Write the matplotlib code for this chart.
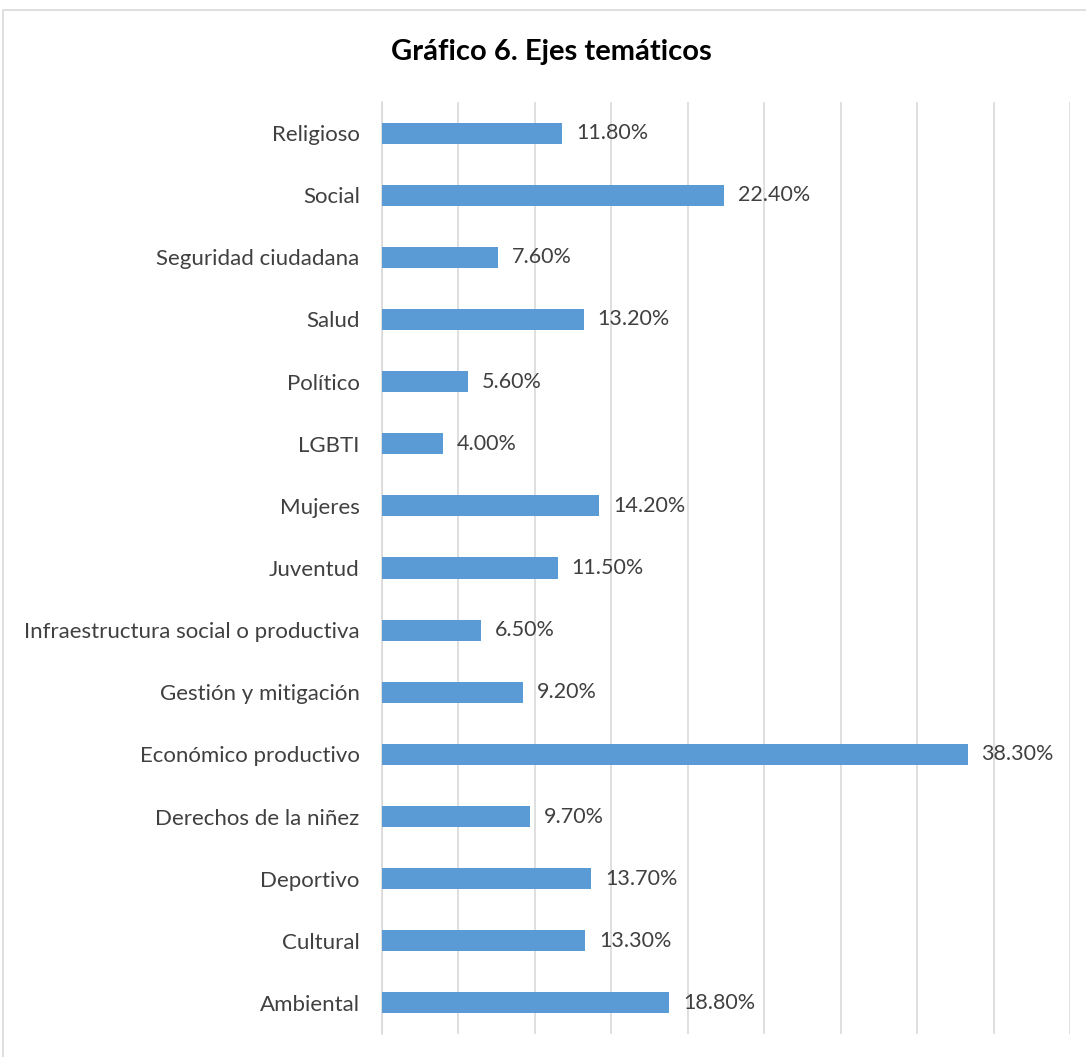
import matplotlib
matplotlib.use("Agg")
import matplotlib.pyplot as plt
from matplotlib.patches import Rectangle

categories = ["Ambiental", "Cultural", "Deportivo", "Derechos de la niñez",
              "Económico productivo", "Gestión y mitigación",
              "Infraestructura social o productiva", "Juventud", "Mujeres",
              "LGBTI", "Político", "Salud", "Seguridad ciudadana", "Social",
              "Religioso"]
values = [18.8, 13.3, 13.7, 9.7, 38.3, 9.2, 6.5, 11.5, 14.2, 4.0, 5.6,
          13.2, 7.6, 22.4, 11.8]
title = "Gráfico 6. Ejes temáticos"

plt.rcParams['font.family'] = ['Lato', 'DejaVu Sans']

fig = plt.figure(figsize=(10.86, 10.57), dpi=100)
fig.patches.append(Rectangle((0.003, -0.05), 1.1, 1.0405, transform=fig.transFigure,
                             fill=False, edgecolor="#D9D9D9", linewidth=1.2))
ax = fig.add_axes([0.3517, 0.0218, 0.6336, 0.8817])

y = range(len(categories))
ax.barh(y, values, height=0.34, color="#5B9BD5", zorder=3)
for yi, v in zip(y, values):
    ax.annotate(f"{v:.2f}%", (v, yi), xytext=(10, 0), textcoords="offset points",
                va="center", ha="left", fontsize=15.5, color="#404040")

ax.set_xlim(0, 45)
ax.set_ylim(-0.5, len(categories) - 0.5)
ax.set_xticks(range(0, 46, 5))
ax.xaxis.grid(True, color="#D9D9D9", linewidth=1.2, zorder=0)
ax.tick_params(axis="x", length=0, labelbottom=False)
ax.tick_params(axis="y", length=0, pad=16, labelsize=16, labelcolor="#404040")
ax.set_yticks(list(y))
ax.set_yticklabels(categories)
for s in ["top", "right", "bottom"]:
    ax.spines[s].set_visible(False)
ax.spines["left"].set_color("#D9D9D9")
ax.spines["left"].set_linewidth(1.2)

fig.text(0.508, 0.951, title, ha="center", va="center", fontsize=21,
         fontweight="bold", color="#000000")

fig.savefig("out.png", dpi=100)
